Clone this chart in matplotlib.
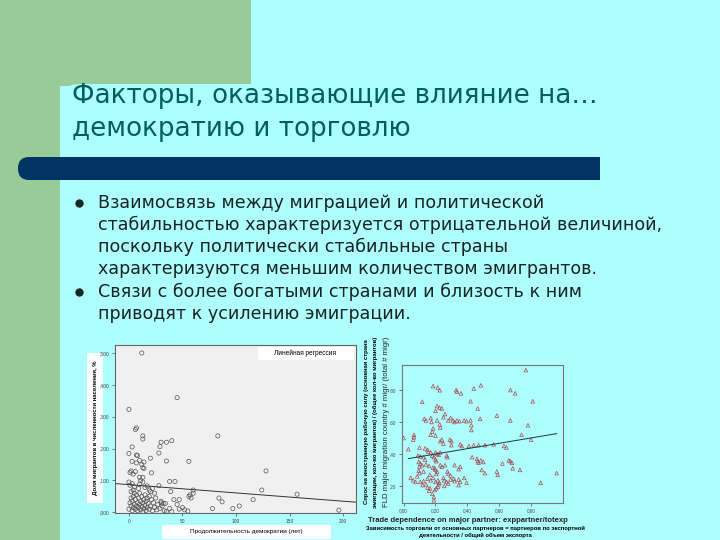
import matplotlib
matplotlib.use("Agg")
import matplotlib.pyplot as plt
from matplotlib.patches import Rectangle, FancyBboxPatch
import numpy as np

plt.rcParams['font.family'] = ['Liberation Sans', 'DejaVu Sans']

# ---------------- text content ----------------
title_lines = ["Факторы, оказывающие влияние на…", "демократию и торговлю"]
bullet1 = ["Взаимосвязь между миграцией и политической",
           "стабильностью характеризуется отрицательной величиной,",
           "поскольку политически стабильные страны",
           "характеризуются меньшим количеством эмигрантов."]
bullet2 = ["Связи с более богатыми странами и близость к ним",
           "приводят к усилению эмиграции."]

# ---------------- left chart data ----------------
left_xticks = [0, 50, 100, 150, 200]
left_xticklabels = ["0", "50", "100", "150", "200"]
left_yticks = [0.0, 0.1, 0.2, 0.3, 0.4, 0.5]
left_yticklabels = [",000", ",100", ",200", ",300", ",400", ",500"]
left_ylabel = "Доля мигрантов в численности населения, %"
left_xlabel = "Продолжительность демократии (лет)"
left_legend = "Линейная регрессия"
left_fit = (0.087, -0.00026)  # intercept, slope

left_x = [0, 1, 2, 2, 3, 3, 4, 4, 5, 5, 6, 6, 7, 7, 8, 8, 9, 9, 10, 10,
          11, 11, 12, 12, 13, 13, 14, 14, 15, 15, 16, 16, 17, 17, 18, 19, 19, 20, 21, 22,
          23, 24, 25, 26, 27, 29, 30, 31, 33, 34,
          0, 1, 3, 5, 2, 4, 9, 11, 13, 10, 15, 17, 19, 20, 22, 28, 38, 43, 39, 24,
          12, 45, 0, 6, 7, 13, 13, 3, 0, 30, 35, 40, 29, 28, 83, 56, 35, 20, 7, 8,
          3, 7, 10, 12, 14, 13, 14, 2, 4, 1, 6, 21, 10, 13, 128,
          60, 57, 58, 56, 47, 42, 84, 87, 78, 97, 103, 47, 52, 55, 35, 40, 32, 30,
          124, 157, 116, 196, 60, 45, 50, 38]
left_y = [0.010, 0.030, 0.020, 0.045, 0.005, 0.035, 0.015, 0.050, 0.025, 0.060,
          0.010, 0.040, 0.020, 0.055, 0.005, 0.030, 0.015, 0.045, 0.025, 0.060,
          0.008, 0.035, 0.018, 0.050, 0.002, 0.030, 0.040, 0.012, 0.022, 0.055,
          0.006, 0.035, 0.045, 0.015, 0.028, 0.010, 0.050, 0.020, 0.040, 0.005,
          0.030, 0.015, 0.045, 0.008, 0.025, 0.012, 0.035, 0.020, 0.005, 0.028,
          0.095, 0.085, 0.090, 0.080, 0.065, 0.070, 0.075, 0.100, 0.110, 0.088,
          0.078, 0.083, 0.070, 0.065, 0.075, 0.084, 0.097, 0.097, 0.065, 0.060,
          0.500, 0.360, 0.323, 0.260, 0.265, 0.240, 0.230, 0.205, 0.185, 0.220,
          0.220, 0.225, 0.206, 0.186, 0.240, 0.160, 0.161, 0.170, 0.180, 0.178,
          0.160, 0.155, 0.163, 0.150, 0.158, 0.140, 0.138, 0.130, 0.120, 0.125,
          0.128, 0.124, 0.110, 0.095, 0.130,
          0.070, 0.055, 0.045, 0.050, 0.040, 0.040, 0.045, 0.033, 0.012, 0.012,
          0.020, 0.010, 0.008, 0.004, 0.003, 0.002, 0.028, 0.030,
          0.070, 0.057, 0.040, 0.007, 0.060, 0.025, 0.015, 0.012]

# ---------------- right chart data ----------------
right_xticks = [0.0, 0.2, 0.4, 0.6, 0.8]
right_xticklabels = ["0,00", "0,20", "0,40", "0,60", "0,80"]
right_yticks = [0.2, 0.4, 0.6, 0.8]
right_yticklabels = [",20", ",40", ",60", ",80"]
right_ylabel_ru = ["Спрос на иностранную рабочую силу (основная страна",
                   "эмиграции, кол-во мигрантов) / (общее кол-во мигрантов)"]
right_ylabel_en = "FLD major migration country # migr/ (total # migr)"
right_xlabel_en = "Trade dependence on major partner: exppartner/totexp"
right_xlabel_ru = ["Зависимость торговли от основных партнеров = партнеров по экспортной",
                   "деятельности / общий объем экспорта"]
right_fit = (0.366, 0.168)  # intercept, slope
right_fit_range = (0.03, 0.96)

right_x = [0.767, 0.185, 0.214, 0.227, 0.33, 0.335, 0.36, 0.44, 0.485, 0.67, 0.70,
           0.117, 0.21, 0.225, 0.20, 0.24, 0.42, 0.81, 0.465, 0.26, 0.25,
           0.13, 0.14, 0.17, 0.175, 0.21, 0.227, 0.23, 0.28, 0.295, 0.31, 0.32,
           0.335, 0.35, 0.38, 0.395, 0.42, 0.425, 0.425, 0.48, 0.585, 0.67, 0.78,
           0.80, 0.74, 0.06, 0.065, 0.065, 0.0, 0.185, 0.18, 0.17, 0.20,
           0.24, 0.23, 0.25, 0.29, 0.30, 0.30, 0.355, 0.365, 0.41, 0.44, 0.47, 0.51,
           0.565, 0.63, 0.645, 0.03, 0.10, 0.135, 0.15, 0.155, 0.17, 0.20,
           0.21, 0.22, 0.23, 0.09, 0.105, 0.125, 0.135, 0.18, 0.19, 0.20, 0.205,
           0.27, 0.275, 0.43, 0.46, 0.465, 0.47, 0.485, 0.50, 0.66, 0.67, 0.68,
           0.095, 0.105, 0.115, 0.10, 0.14, 0.16, 0.185, 0.195, 0.20, 0.21, 0.205,
           0.23, 0.24, 0.26, 0.32, 0.355, 0.345, 0.275, 0.28, 0.295,
           0.095, 0.10, 0.125, 0.045, 0.06, 0.075, 0.105, 0.125,
           0.15, 0.17, 0.185, 0.20, 0.215, 0.25, 0.255, 0.27, 0.295, 0.315, 0.32,
           0.345, 0.355, 0.38, 0.395, 0.49, 0.51, 0.585, 0.59, 0.62, 0.685, 0.73,
           0.96, 0.86, 0.14, 0.15, 0.16, 0.165, 0.22, 0.225, 0.255, 0.345,
           0.18, 0.19, 0.19, 0.195, 0.085, 0.165, 0.28, 0.12, 0.205, 0.215]
right_y = [0.925, 0.825, 0.816, 0.799, 0.80, 0.79, 0.78, 0.81, 0.83, 0.80, 0.78,
           0.727, 0.70, 0.69, 0.67, 0.685, 0.73, 0.73, 0.685, 0.65, 0.63,
           0.62, 0.61, 0.625, 0.60, 0.61, 0.585, 0.565, 0.61, 0.625, 0.61, 0.60,
           0.61, 0.605, 0.61, 0.605, 0.61, 0.58, 0.55, 0.62, 0.64, 0.61, 0.58,
           0.49, 0.52, 0.49, 0.505, 0.52, 0.50, 0.56, 0.54, 0.52, 0.515,
           0.49, 0.48, 0.465, 0.49, 0.48, 0.455, 0.46, 0.45, 0.45, 0.455, 0.455, 0.455,
           0.46, 0.45, 0.44, 0.43, 0.44, 0.435, 0.425, 0.415, 0.41, 0.41,
           0.40, 0.395, 0.41, 0.39, 0.385, 0.38, 0.365, 0.39, 0.38, 0.365, 0.355,
           0.39, 0.38, 0.38, 0.37, 0.355, 0.345, 0.36, 0.35, 0.36, 0.355, 0.345,
           0.35, 0.34, 0.33, 0.32, 0.335, 0.325, 0.315, 0.31, 0.30, 0.29, 0.275,
           0.33, 0.32, 0.33, 0.33, 0.32, 0.305, 0.29, 0.275, 0.265,
           0.295, 0.28, 0.29, 0.25, 0.235, 0.225, 0.225, 0.23,
           0.245, 0.235, 0.25, 0.225, 0.235, 0.25, 0.235, 0.225, 0.24, 0.245, 0.23,
           0.24, 0.225, 0.25, 0.22, 0.30, 0.28, 0.29, 0.27, 0.34, 0.31, 0.30,
           0.28, 0.22, 0.21, 0.19, 0.17, 0.185, 0.21, 0.22, 0.20, 0.205,
           0.15, 0.13, 0.11, 0.175, 0.26, 0.27, 0.215, 0.205, 0.185, 0.195]

# ---------------- colours ----------------
CYAN = '#AEFEFE'
GREEN = '#99CB99'
NAVY = '#003465'
TITLE_C = '#00605F'
TEXT_C = '#1A2424'
WIDE = ['DejaVu Sans']

W, H = 720, 540
fig = plt.figure(figsize=(7.2, 5.4), dpi=100)
fig.patch.set_facecolor(CYAN)


def px_axes(x0, y0, x1, y1, **kw):
    return fig.add_axes([x0 / W, 1 - y1 / H, (x1 - x0) / W, (y1 - y0) / H], **kw)


def pt(px):
    return px * 72 / 100


# ---------------- slide background ----------------
bg = fig.add_axes([0, 0, 1, 1], zorder=-5)
bg.set_xlim(0, W)
bg.set_ylim(H, 0)
bg.axis('off')
bg.add_patch(Rectangle((0, 0), 251, 86, color=GREEN, lw=0))
bg.add_patch(Rectangle((0, 0), 60, H, color=GREEN, lw=0))
bg.add_patch(FancyBboxPatch((60, 84), 700, 520, boxstyle='round,pad=0,rounding_size=20',
                            color=CYAN, lw=0))
bg.add_patch(FancyBboxPatch((18, 157), 60, 23, boxstyle='round,pad=0,rounding_size=11',
                            color=NAVY, lw=0))
bg.add_patch(Rectangle((40, 157), 560, 23, color=NAVY, lw=0))

bg.text(72, 103, title_lines[0], fontsize=pt(26.2), color=TITLE_C, va='baseline',
        ha='left', family=WIDE)
bg.text(72, 136, title_lines[1], fontsize=pt(26.2), color=TITLE_C, va='baseline',
        ha='left', family=WIDE)

line_ys1 = [208, 230, 252, 274]
line_ys2 = [297, 319]
for txt, yy in zip(bullet1, line_ys1):
    bg.text(98, yy, txt, fontsize=pt(17.5), color=TEXT_C, va='baseline', ha='left',
            family=WIDE)
for txt, yy in zip(bullet2, line_ys2):
    bg.text(98, yy, txt, fontsize=pt(17.5), color=TEXT_C, va='baseline', ha='left',
            family=WIDE)
bg.plot([79, 79], [203, 292], ls='none', marker='o', ms=5, color=TEXT_C)

# white label boxes of the left chart
bg.add_patch(Rectangle((87, 353), 16, 150, color='white', lw=0))
bg.text(95, 428, left_ylabel, rotation=90, fontsize=4.3, color='black',
        ha='center', va='center', fontweight='bold')
bg.add_patch(Rectangle((162, 525), 169, 14, color='white', lw=0))
bg.text(246, 532, left_xlabel, fontsize=4.6, color='black', ha='center', va='center')

# ---------------- left chart ----------------
axL = px_axes(115, 345, 356, 513)
axL.set_facecolor('#F0F0F0')
axL.scatter(left_x, left_y, s=9, facecolors='none', edgecolors='#555555', linewidths=0.5)
axL.axline((0, left_fit[0]), slope=left_fit[1], color='#333333', lw=0.7)
axL.set_xlim(-13, 212)
axL.set_ylim(-0.002, 0.525)
axL.set_xticks(left_xticks)
axL.set_xticklabels(left_xticklabels)
axL.set_yticks(left_yticks)
axL.set_yticklabels(left_yticklabels)
axL.tick_params(labelsize=3.5, length=2, width=0.5, colors='#444444', pad=2)
for s in axL.spines.values():
    s.set_color('#666666')
    s.set_linewidth(0.8)

# legend label box (drawn above the left axes)
ov = fig.add_axes([0, 0, 1, 1], zorder=5)
ov.set_xlim(0, W)
ov.set_ylim(H, 0)
ov.axis('off')
ov.add_patch(Rectangle((258, 347), 96, 13, color='white', lw=0))
ov.text(305, 353.5, left_legend, fontsize=4.7, color='black', ha='center', va='center')

# ---------------- right chart ----------------
axR = px_axes(402, 365, 563, 503)
axR.set_facecolor('none')
axR.scatter(right_x, right_y, s=7, marker='^', facecolors='none', edgecolors='#A84A50',
            linewidths=0.5)
fx = np.array(right_fit_range)
axR.plot(fx, right_fit[0] + right_fit[1] * fx, color='#1A3A3A', lw=0.7)
axR.set_xlim(-0.01, 1.0)
axR.set_ylim(0.093, 0.957)
axR.set_xticks(right_xticks)
axR.set_xticklabels(right_xticklabels)
axR.set_yticks(right_yticks)
axR.set_yticklabels(right_yticklabels)
axR.tick_params(labelsize=3.3, length=2, width=0.5, colors='#444444', pad=2)
for s in axR.spines.values():
    s.set_color('#777777')
    s.set_linewidth(0.8)

bg.text(366, 422, right_ylabel_ru[0], rotation=90, fontsize=4.3, color='black',
        ha='center', va='center', fontweight='bold')
bg.text(375, 422, right_ylabel_ru[1], rotation=90, fontsize=4.3, color='black',
        ha='center', va='center', fontweight='bold')
bg.text(386, 422, right_ylabel_en, rotation=90, fontsize=5.6, color='#222222',
        ha='center', va='center')
bg.text(468, 521, right_xlabel_en, fontsize=5.5, color='#222222', ha='center', va='center',
        fontweight='bold')
bg.text(475, 528, right_xlabel_ru[0], fontsize=4.2, color='black', ha='center', va='center',
        fontweight='bold')
bg.text(475, 535, right_xlabel_ru[1], fontsize=4.2, color='black', ha='center', va='center',
        fontweight='bold')

fig.savefig('out.png', dpi=100, facecolor=fig.get_facecolor())
